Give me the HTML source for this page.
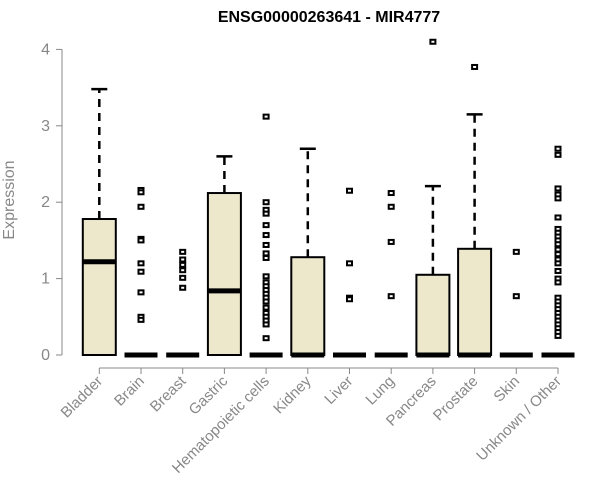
<!DOCTYPE html>
<html><head><meta charset="utf-8"><style>
body{margin:0;background:#fff}
svg{display:block;font-family:"Liberation Sans",Arial,sans-serif}
</style></head><body>
<svg id="chart" width="600" height="500">
<text x="329" y="22" text-anchor="middle" font-weight="bold" font-size="16">ENSG00000263641 - MIR4777</text>
<text transform="translate(14,200) rotate(-90)" text-anchor="middle" font-size="16" fill="#888">Expression</text>
<g id="axes"></g><g id="boxes"></g>
</svg>
<script>
const categories=["Bladder","Brain","Breast","Gastric","Hematopoietic cells","Kidney","Liver","Lung","Pancreas","Prostate","Skin","Unknown / Other"];
const q1=[0,0,0,0,0,0,0,0,0,0,0,0];
const medians=[1.22,0,0,0.84,0,0,0,0,0,0,0,0];
const q3=[1.78,0,0,2.12,0,1.28,0,0,1.05,1.39,0,0];
const whiskerHi=[3.48,0,0,2.6,0,2.7,0,0,2.21,3.15,0,0];
const outliers=[[],[2.16,2.13,1.94,1.52,1.5,1.2,1.09,0.82,0.5,0.46],[1.35,1.25,1.18,1.11,1.01,0.88],[],
[3.12,2.0,1.9,1.85,1.7,1.57,1.44,1.33,1.27,1.03,0.95,0.9,0.85,0.8,0.75,0.7,0.62,0.55,0.5,0.45,0.4,0.22],
[],[2.15,1.2,0.75,0.73],[2.12,1.94,1.48,0.77],[4.1],[3.77],[1.35,0.77],
[2.7,2.62,2.18,2.1,2.05,1.8,1.65,1.6,1.55,1.5,1.45,1.38,1.32,1.25,1.2,1.1,1.0,0.95,0.75,0.7,0.65,0.6,0.55,0.5,0.45,0.4,0.35,0.3,0.25]];
const yTicks=[0,1,2,3,4];
const NS="http://www.w3.org/2000/svg";
const y=v=>355-v*76.4, x=i=>99.3+i*41.7, bw=33;
function mk(t,a,p){const e=document.createElementNS(NS,t);for(const k in a)e.setAttribute(k,a[k]);p.appendChild(e);return e;}
const ax=document.getElementById('axes'),bx=document.getElementById('boxes');
const yl=mk('line',{x1:62,x2:62,y1:y(0),y2:y(4),stroke:'#888'},ax);


yTicks.forEach(t=>{
 const l=mk('line',{x1:56,x2:62,y1:y(t),y2:y(t),stroke:'#888'},ax);
 
 
 const tx=mk('text',{x:50,y:y(t)+5,'text-anchor':'end','font-size':16,fill:'#888'},ax);tx.textContent=t;
 
 
});
const xl=mk('line',{x1:x(0),x2:x(categories.length-1),y1:368,y2:368,stroke:'#888'},ax);


categories.forEach((c,i)=>{
 const l=mk('line',{x1:x(i),x2:x(i),y1:368,y2:374,stroke:'#888'},ax);
 
 
 const t=mk('text',{transform:`translate(${x(i)+4},382) rotate(-45)`,'text-anchor':'end','font-size':15,fill:'#888'},ax);t.textContent=c;
 
 
 const g=mk('g',{},bx);
 
 
 const cx=x(i);
 if(whiskerHi[i]>q3[i]){
  mk('line',{x1:cx,x2:cx,y1:y(q3[i]),y2:y(whiskerHi[i]),stroke:'#000','stroke-width':2.5,'stroke-dasharray':'8,6'},g);
  mk('line',{x1:cx-8,x2:cx+8,y1:y(whiskerHi[i]),y2:y(whiskerHi[i]),stroke:'#000','stroke-width':2.5},g);
 }
 if(q3[i]>q1[i]) mk('rect',{x:cx-bw/2,y:y(q3[i]),width:bw,height:y(q1[i])-y(q3[i]),fill:'#ede7cc',stroke:'#000','stroke-width':2},g);
 mk('line',{x1:cx-bw/2,x2:cx+bw/2,y1:y(medians[i]),y2:y(medians[i]),stroke:'#000','stroke-width':5},g);
 outliers[i].forEach(v=>{
  const p=mk('rect',{x:cx-2.5,y:y(v)-2,width:5,height:4,fill:'#fff',stroke:'#000','stroke-width':2},g);
  
  
 });
});
</script>
</body></html>
